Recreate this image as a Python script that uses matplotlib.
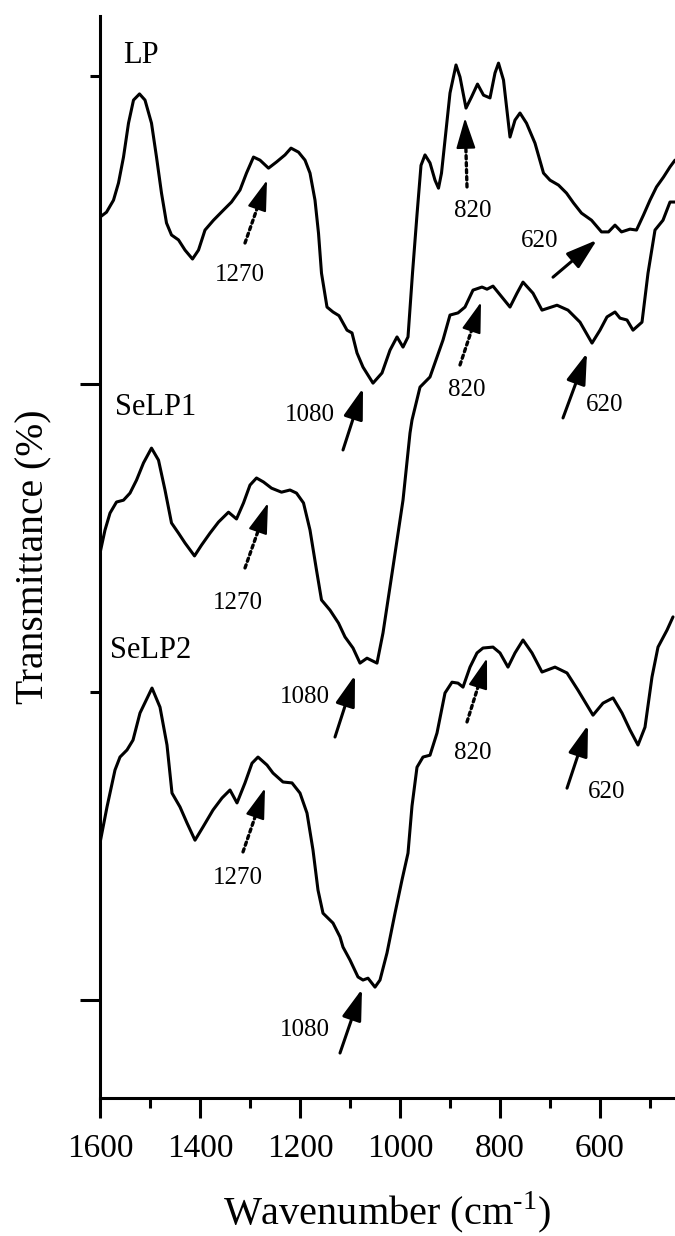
import numpy as np
import matplotlib
matplotlib.use('Agg')
import matplotlib.pyplot as plt
from matplotlib.ticker import MultipleLocator, FixedLocator

plt.rcParams['font.family'] = ['Liberation Serif', 'DejaVu Serif']
plt.rcParams['mathtext.fontset'] = 'custom'
plt.rcParams['mathtext.rm'] = 'Liberation Serif'

# FTIR spectra (wavenumber cm-1, transmittance arb. units, offset)
lp_wn = [1600, 1587, 1573, 1563, 1553, 1543, 1533, 1521, 1510, 1497, 1487, 1477, 1467, 1457,
         1443, 1430, 1415, 1403, 1390, 1373, 1353, 1337, 1320, 1307, 1293, 1280, 1263, 1247,
         1230, 1218, 1203, 1190, 1180, 1170, 1163, 1157, 1146, 1134, 1122, 1106, 1096, 1086,
         1074, 1054, 1036, 1020, 1006, 994, 984, 975, 966, 958, 950, 940, 930, 923, 917, 910,
         900, 888, 880, 868, 857, 845, 833, 820, 810, 803, 793, 780, 770, 760, 747, 730, 713,
         700, 683, 667, 653, 637, 617, 597, 583, 570, 557, 540, 527, 513, 500, 487, 473, 460, 450]
lp_t = [25.42, 25.58, 25.97, 26.53, 27.37, 28.47, 29.22, 29.42, 29.22, 28.47, 27.37, 26.20,
        25.23, 24.84, 24.68, 24.35, 24.06, 24.35, 25.00, 25.32, 25.65, 25.91, 26.30, 26.85,
        27.37, 27.27, 27.01, 27.21, 27.44, 27.66, 27.53, 27.27, 26.85, 25.97, 24.90, 23.60,
        22.50, 22.34, 22.22, 21.75, 21.66, 21.01, 20.55, 20.03, 20.36, 21.10, 21.53, 21.20,
        21.53, 23.60, 25.50, 27.10, 27.44, 27.18, 26.62, 26.36, 26.85, 27.92, 29.45, 30.36,
        29.97, 28.96, 29.32, 29.74, 29.38, 29.29, 30.10, 30.42, 29.87, 28.02, 28.57, 28.80,
        28.47, 27.82, 26.85, 26.62, 26.46, 26.20, 25.88, 25.55, 25.32, 24.94, 24.94, 25.16,
        24.94, 25.03, 25.00, 25.49, 25.97, 26.40, 26.72, 27.05, 27.27]

selp1_wn = [1600, 1590, 1580, 1567, 1553, 1540, 1527, 1513, 1497, 1483, 1470, 1457, 1443, 1430,
            1411, 1397, 1380, 1363, 1343, 1327, 1313, 1300, 1287, 1273, 1257, 1237, 1220, 1207,
            1193, 1180, 1167, 1157, 1140, 1123, 1110, 1094, 1080, 1066, 1046, 1034, 1014, 994,
            980, 976, 960, 940, 914, 900, 884, 870, 854, 836, 826, 814, 796, 780, 766, 754, 734,
            716, 686, 664, 640, 616, 600, 586, 570, 560, 546, 534, 516, 504, 490, 474, 460, 450]
selp1_t = [14.51, 15.26, 15.81, 16.17, 16.23, 16.46, 16.88, 17.44, 17.92, 17.53, 16.56, 15.49,
           15.16, 14.84, 14.42, 14.77, 15.16, 15.52, 15.84, 15.62, 16.14, 16.72, 16.95, 16.82,
           16.62, 16.49, 16.56, 16.46, 16.14, 15.26, 13.96, 12.99, 12.66, 12.24, 11.79, 11.43,
           10.94, 11.10, 10.94, 11.92, 14.06, 16.23, 18.41, 18.83, 19.90, 20.23, 21.43, 22.24,
           22.31, 22.50, 23.05, 23.15, 23.08, 23.18, 22.82, 22.50, 22.95, 23.31, 22.95, 22.40,
           22.56, 22.40, 22.01, 21.33, 21.75, 22.18, 22.34, 22.14, 22.08, 21.75, 22.01, 23.60,
           25.00, 25.32, 25.91, 25.91]

selp2_wn = [1600, 1586, 1570, 1560, 1546, 1534, 1520, 1496, 1480, 1466, 1456, 1440, 1426, 1410,
            1394, 1374, 1356, 1340, 1326, 1310, 1296, 1284, 1266, 1254, 1234, 1216, 1200, 1186,
            1174, 1164, 1154, 1134, 1120, 1114, 1100, 1084, 1074, 1064, 1050, 1040, 1026, 1010,
            996, 984, 976, 966, 954, 940, 926, 910, 896, 884, 874, 860, 846, 834, 814, 800, 784,
            770, 754, 736, 716, 690, 666, 644, 614, 594, 574, 556, 540, 524, 510, 496, 484, 466,
            454]
selp2_t = [5.10, 6.27, 7.47, 7.89, 8.12, 8.44, 9.32, 10.13, 9.51, 8.28, 6.72, 6.27, 5.75, 5.19,
           5.62, 6.17, 6.56, 6.82, 6.40, 7.05, 7.69, 7.89, 7.63, 7.37, 7.08, 7.05, 6.72, 6.07,
           4.87, 3.57, 2.82, 2.50, 2.05, 1.72, 1.30, 0.75, 0.65, 0.71, 0.42, 0.65, 1.53, 2.82,
           3.90, 4.77, 6.30, 7.56, 7.89, 7.95, 8.67, 9.97, 10.32, 10.29, 10.16, 10.81, 11.27,
           11.43, 11.46, 11.27, 10.81, 11.27, 11.69, 11.27, 10.65, 10.81, 10.62, 10.06, 9.25,
           9.64, 9.81, 9.32, 8.77, 8.28, 8.86, 10.49, 11.46, 12.01, 12.44]

names = ['LP', 'SeLP1', 'SeLP2']
name_pos = [(1554, 30.68), (1570, 19.25), (1580, 11.36)]

# band arrows: (label, tip, tail, label position, dotted?)
bands = [
    ('1270', (1266, 26.62), (1310, 24.58), (1320, 23.54), True),
    ('1080', (1074, 19.87), (1114, 17.86), (1180, 18.99), False),
    ('820', (870, 28.64), (866, 26.40), (854, 25.62), True),
    ('620', (606, 24.68), (694, 23.47), (720, 24.64), False),
    ('1270', (1264, 16.14), (1310, 14.03), (1324, 12.89), True),
    ('1080', (1090, 10.55), (1130, 8.54), (1190, 9.84), False),
    ('820', (838, 22.66), (880, 20.62), (866, 19.81), True),
    ('620', (626, 21.01), (674, 18.90), (590, 19.32), False),
    ('1270', (1270, 6.88), (1314, 4.81), (1324, 3.96), True),
    ('1080', (1076, 0.36), (1120, -1.72), (1190, -0.97), False),
    ('820', (826, 11.10), (866, 9.03), (854, 8.02), True),
    ('620', (624, 8.93), (666, 6.88), (586, 6.75), False),
]

fig = plt.figure(figsize=(6.75, 12.36), dpi=100)
ax = fig.add_axes([100/675, 138/1236, 575/675, 1082/1236])
ax.set_xlim(1600, 450)
ax.set_ylim(-3.18, 31.95)

for wn, t in [(lp_wn, lp_t), (selp1_wn, selp1_t), (selp2_wn, selp2_t)]:
    ax.plot(wn, t, color='black', lw=2.2, solid_joinstyle='round', solid_capstyle='round')

for name, (x, y) in zip(names, name_pos):
    ax.text(x, y, name, fontsize=22, ha='left', va='center')

head = '-|>,head_length=0.95,head_width=0.3'
HEAD_PX = 26.0
for lab, tip, tail, lpos, dotted in bands:
    if dotted:
        # dotted shaft up to the base of a solid head
        p_tip = ax.transData.transform(tip)
        p_tail = ax.transData.transform(tail)
        f = HEAD_PX / np.hypot(*(p_tail - p_tip))
        base = (tip[0] + f * (tail[0] - tip[0]), tip[1] + f * (tail[1] - tip[1]))
        ax.annotate('', xy=base, xytext=tail,
                    arrowprops=dict(arrowstyle='-', color='black', lw=2.4,
                                    linestyle=(0, (1.0, 1.1)), shrinkA=0, shrinkB=0))
        ax.annotate('', xy=tip, xytext=base,
                    arrowprops=dict(arrowstyle=head, mutation_scale=20, color='black',
                                    lw=1.5, shrinkA=0, shrinkB=0))
    else:
        ax.annotate('', xy=tip, xytext=tail,
                    arrowprops=dict(arrowstyle=head, mutation_scale=20, color='black',
                                    lw=2.2, shrinkA=0, shrinkB=0))
    ax.text(lpos[0], lpos[1], lab, fontsize=18, ha='center', va='center')

ax.xaxis.set_major_locator(MultipleLocator(200))
ax.xaxis.set_minor_locator(MultipleLocator(100))
ax.yaxis.set_major_locator(FixedLocator([0, 20]))
ax.yaxis.set_minor_locator(FixedLocator([10, 30]))
ax.set_yticklabels([])

for s in ['top', 'right']:
    ax.spines[s].set_visible(False)
for s in ['left', 'bottom']:
    ax.spines[s].set_linewidth(2.2)

ax.tick_params(which='major', direction='out', length=14.4, width=2.2, labelsize=24, pad=11)
ax.tick_params(which='minor', direction='out', length=7.2, width=2.2)

ax.set_xlabel(r'Wavenumber (cm$^{\text{-1}}$)', fontsize=29, labelpad=18)
ax.set_ylabel('Transmittance (%)', fontsize=28.5, labelpad=9)

fig.savefig('out.png', dpi=100)
